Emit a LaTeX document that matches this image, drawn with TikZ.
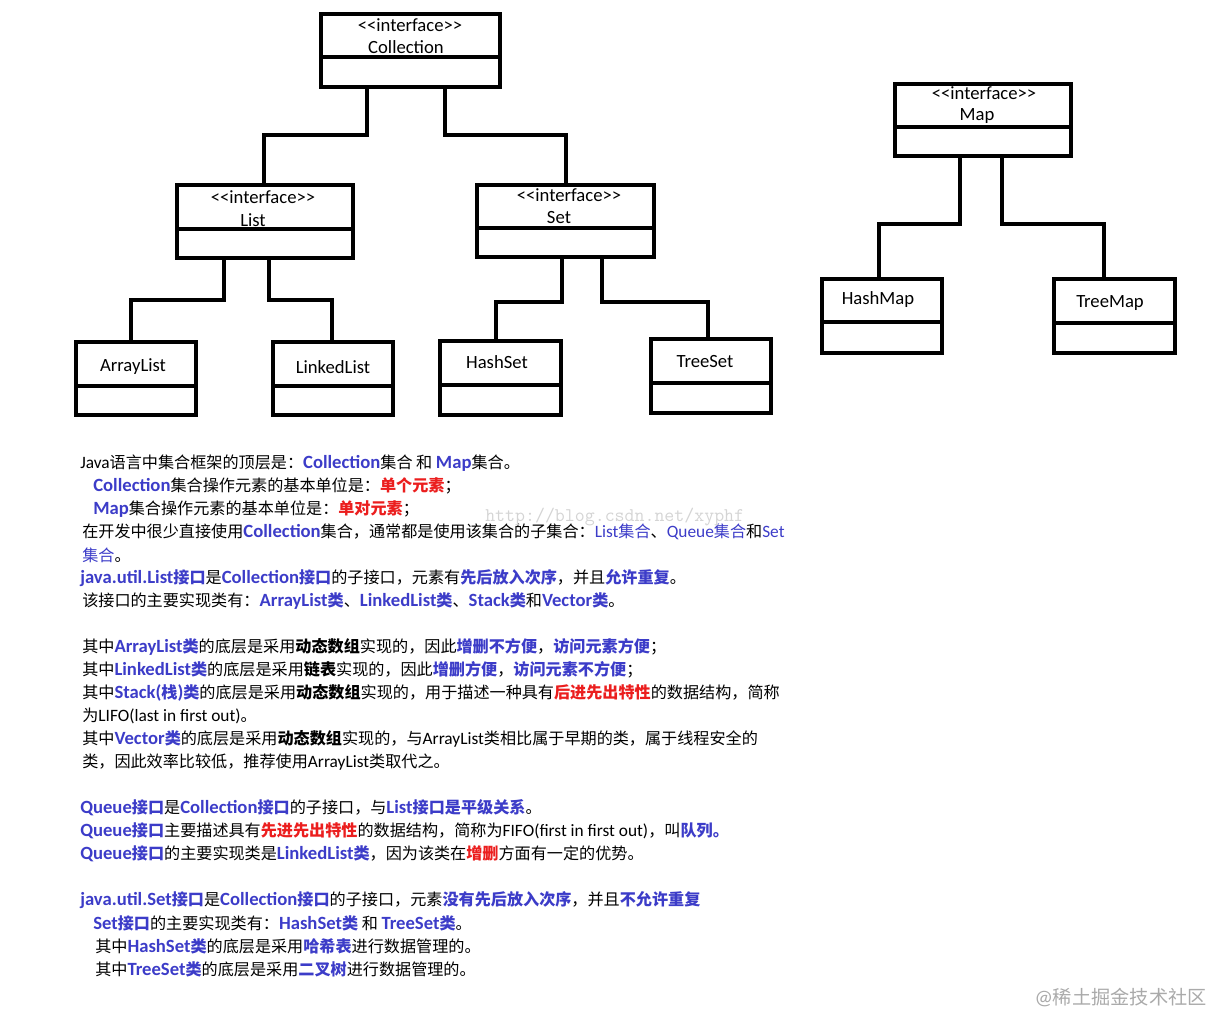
\documentclass[tikz,border=0pt]{standalone}
\usepackage{fontspec}
\setmainfont{Carlito}
\newfontfamily\latinfont{Carlito}
\newfontfamily\cjkfont[Scale=0.93]{Noto Sans CJK SC}
\usetikzlibrary{calc}
\definecolor{myblue}{RGB}{60,60,200}
\definecolor{myred}{RGB}{235,30,30}
\definecolor{wmgray}{RGB}{212,212,212}
\definecolor{sigray}{RGB}{170,170,170}

\XeTeXinterchartokenstate=1
\newXeTeXintercharclass\cjkclass
\newcount\cjkcnt
\cjkcnt="4E00 \loop \XeTeXcharclass\cjkcnt=\cjkclass \advance\cjkcnt by 1 \ifnum\cjkcnt<"A000 \repeat
\cjkcnt="3000 \loop \XeTeXcharclass\cjkcnt=\cjkclass \advance\cjkcnt by 1 \ifnum\cjkcnt<"3040 \repeat
\cjkcnt="FF00 \loop \XeTeXcharclass\cjkcnt=\cjkclass \advance\cjkcnt by 1 \ifnum\cjkcnt<"FFF0 \repeat
\XeTeXinterchartoks 0 \cjkclass = {\cjkfont}
\XeTeXinterchartoks 4095 \cjkclass = {\cjkfont}
\XeTeXinterchartoks \cjkclass 0 = {\latinfont}
\XeTeXinterchartoks 4095 0 = {\latinfont}

\newcommand\BLat[1]{{\fontsize{14}{16}\selectfont\bfseries\color{myblue}#1}}
\newcommand\BCjk[1]{{\bfseries\color{myblue}#1}}
\newcommand\RCjk[1]{{\bfseries\color{myred}#1}}
\newcommand\KBold[1]{{\bfseries #1}}
\newcommand\BReg[1]{{\color{myblue}#1}}

% name, x1, y1, x2, y2, divider offset from top
\newcommand\umlbox[6]{%
  \node[box,minimum width={(#4-#2)*0.75pt},minimum height={(#5-#3)*0.75pt}] (#1) at (#2,#3) {};
  \draw[boxline] ($(#1.north west)+(0,#6)$) -- ($(#1.north east)+(0,#6)$);
}

\begin{document}
\begin{tikzpicture}[x=0.75pt,y=-0.75pt,
  box/.style={draw,line width=3.3pt,outer sep=0pt,inner sep=0pt,anchor=north west},
  boxline/.style={line width=3.3pt},
  conn/.style={line width=3.1pt,line join=miter},
  lbl/.style={inner sep=0pt,font=\fontsize{14}{16}\selectfont},
  txt/.style={anchor=west,inner sep=0pt,font=\fontsize{13}{16}\selectfont}]
\useasboundingbox (0,0) rectangle (1213,1014);

% ---------- boxes ----------
\umlbox{coll}{321}{14}{500}{87}{43}
\umlbox{list}{177}{185}{353}{258}{44}
\umlbox{set}{477}{185}{654}{257}{43}
\umlbox{arr}{76}{342}{196}{415}{44}
\umlbox{lnk}{273}{342}{393}{415}{44}
\umlbox{hset}{440}{341}{561}{415}{44}
\umlbox{tset}{651}{339}{771}{413}{44}
\umlbox{map}{895}{84}{1071}{156}{43}
\umlbox{hmap}{822}{279}{942}{353}{43}
\umlbox{tmap}{1054}{279}{1175}{353}{44}

% ---------- box labels ----------
\node[lbl] (collst) at (410,25) {<<interface>>};
\node[lbl] (collnm) at (406,47) {Collection};
\node[lbl] (listst) at (263,197) {<<interface>>};
\node[lbl] (listnm) at (253,220) {List};
\node[lbl] (setst) at (569,195) {<<interface>>};
\node[lbl] (setnm) at (559,218) {Set};
\node[lbl] (mapst) at (984,93) {<<interface>>};
\node[lbl] (mapnm) at (977,116) {Map};
\node[lbl] (arrnm) at (133,367) {ArrayList};
\node[lbl] (lnknm) at (333,367) {LinkedList};
\node[lbl] (hsetnm) at (497,362) {HashSet};
\node[lbl] (tsetnm) at (705,362) {TreeSet};
\node[lbl] (hmapnm) at (878,300) {HashMap};
\node[lbl] (tmapnm) at (1110,303) {TreeMap};

% ---------- connectors ----------
\coordinate (a1) at (367,135); \coordinate (a2) at (264,135);
\draw[conn] (coll.south -| a1) -- (a1) -- (a2) -- (list.north -| a2);
\coordinate (b1) at (445,135); \coordinate (b2) at (566,135);
\draw[conn] (coll.south -| b1) -- (b1) -- (b2) -- (set.north -| b2);
\coordinate (c1) at (224,300); \coordinate (c2) at (131,300);
\draw[conn] (list.south -| c1) -- (c1) -- (c2) -- (arr.north -| c2);
\coordinate (d1) at (269,300); \coordinate (d2) at (332,300);
\draw[conn] (list.south -| d1) -- (d1) -- (d2) -- (lnk.north -| d2);
\coordinate (e1) at (562,302); \coordinate (e2) at (496,302);
\draw[conn] (set.south -| e1) -- (e1) -- (e2) -- (hset.north -| e2);
\coordinate (f1) at (602,302); \coordinate (f2) at (708,302);
\draw[conn] (set.south -| f1) -- (f1) -- (f2) -- (tset.north -| f2);
\coordinate (g1) at (960,224); \coordinate (g2) at (879,224);
\draw[conn] (map.south -| g1) -- (g1) -- (g2) -- (hmap.north -| g2);
\coordinate (h1) at (1002,224); \coordinate (h2) at (1104,224);
\draw[conn] (map.south -| h1) -- (h1) -- (h2) -- (tmap.north -| h2);

% ---------- text ----------
\node[txt] (l1) at (80,463) {Java语言中集合框架的顶层是：\BLat{Collection}集合 和 \BLat{Map}集合。};
\node[txt] (l2) at (93,486) {\BLat{Collection}集合操作元素的基本单位是：\RCjk{单个元素}；};
\node[txt] (l3) at (93,509) {\BLat{Map}集合操作元素的基本单位是：\RCjk{单对元素}；};
\node[txt] (l4) at (82,532) {在开发中很少直接使用\BLat{Collection}集合，通常都是使用该集合的子集合：\BReg{List集合}、\BReg{Queue集合}和\BReg{Set}};
\node[txt] (l5) at (82,555) {\BReg{集合}。};
\node[txt] (l6) at (80,578) {\BLat{java.util.List}\BCjk{接口}是\BLat{Collection}\BCjk{接口}的子接口，元素有\BCjk{先后放入次序}，并且\BCjk{允许重复}。};
\node[txt] (l7) at (82,601) {该接口的主要实现类有：\BLat{ArrayList}\BCjk{类}、\BLat{LinkedList}\BCjk{类}、\BLat{Stack}\BCjk{类}和\BLat{Vector}\BCjk{类}。};
\node[txt] (l8) at (82,647) {其中\BLat{ArrayList}\BCjk{类}的底层是采用\KBold{动态数组}实现的，因此\BCjk{增删不方便}，\BCjk{访问元素方便}；};
\node[txt] (l9) at (82,670) {其中\BLat{LinkedList}\BCjk{类}的底层是采用\KBold{链表}实现的，因此\BCjk{增删方便}，\BCjk{访问元素不方便}；};
\node[txt] (l10) at (82,693) {其中\BLat{Stack(}\BCjk{栈}\BLat{)}\BCjk{类}的底层是采用\KBold{动态数组}实现的，用于描述一种具有\RCjk{后进先出特性}的数据结构，简称};
\node[txt] (l11) at (82,716) {为LIFO(last in first out)。};
\node[txt] (l12) at (82,739) {其中\BLat{Vector}\BCjk{类}的底层是采用\KBold{动态数组}实现的，与ArrayList类相比属于早期的类，属于线程安全的};
\node[txt] (l13) at (82,762) {类，因此效率比较低，推荐使用ArrayList类取代之。};
\node[txt] (l14) at (80,808) {\BLat{Queue}\BCjk{接口}是\BLat{Collection}\BCjk{接口}的子接口，与\BLat{List}\BCjk{接口是平级关系}。};
\node[txt] (l15) at (80,831) {\BLat{Queue}\BCjk{接口}主要描述具有\RCjk{先进先出特性}的数据结构，简称为FIFO(first in first out)，叫\BCjk{队列。}};
\node[txt] (l16) at (80,854) {\BLat{Queue}\BCjk{接口}的主要实现类是\BLat{LinkedList}\BCjk{类}，因为该类在\RCjk{增删}方面有一定的优势。};
\node[txt] (l17) at (80,900) {\BLat{java.util.Set}\BCjk{接口}是\BLat{Collection}\BCjk{接口}的子接口，元素\BCjk{没有先后放入次序}，并且\BCjk{不允许重复}};
\node[txt] (l18) at (93,923) {\BLat{Set}\BCjk{接口}的主要实现类有：\BLat{HashSet}\BCjk{类} 和 \BLat{TreeSet}\BCjk{类}。};
\node[txt] (l19) at (95,946) {其中\BLat{HashSet}\BCjk{类}的底层是采用\BCjk{哈希表}进行数据管理的。};
\node[txt] (l20) at (95,969) {其中\BLat{TreeSet}\BCjk{类}的底层是采用\BCjk{二叉树}进行数据管理的。};

% ---------- watermarks ----------
\node[anchor=west,inner sep=0pt,text=wmgray] (wm) at (485,517)
  {\XeTeXinterchartokenstate=0 \ttfamily\fontsize{14.5}{16}\selectfont http://blog.csdn.net/xyphf};
\node[anchor=east,inner sep=0pt,text=sigray] (sig) at (1207,997)
  {\fontsize{15.5}{17}\selectfont @稀土掘金技术社区};
\end{tikzpicture}
\end{document}
